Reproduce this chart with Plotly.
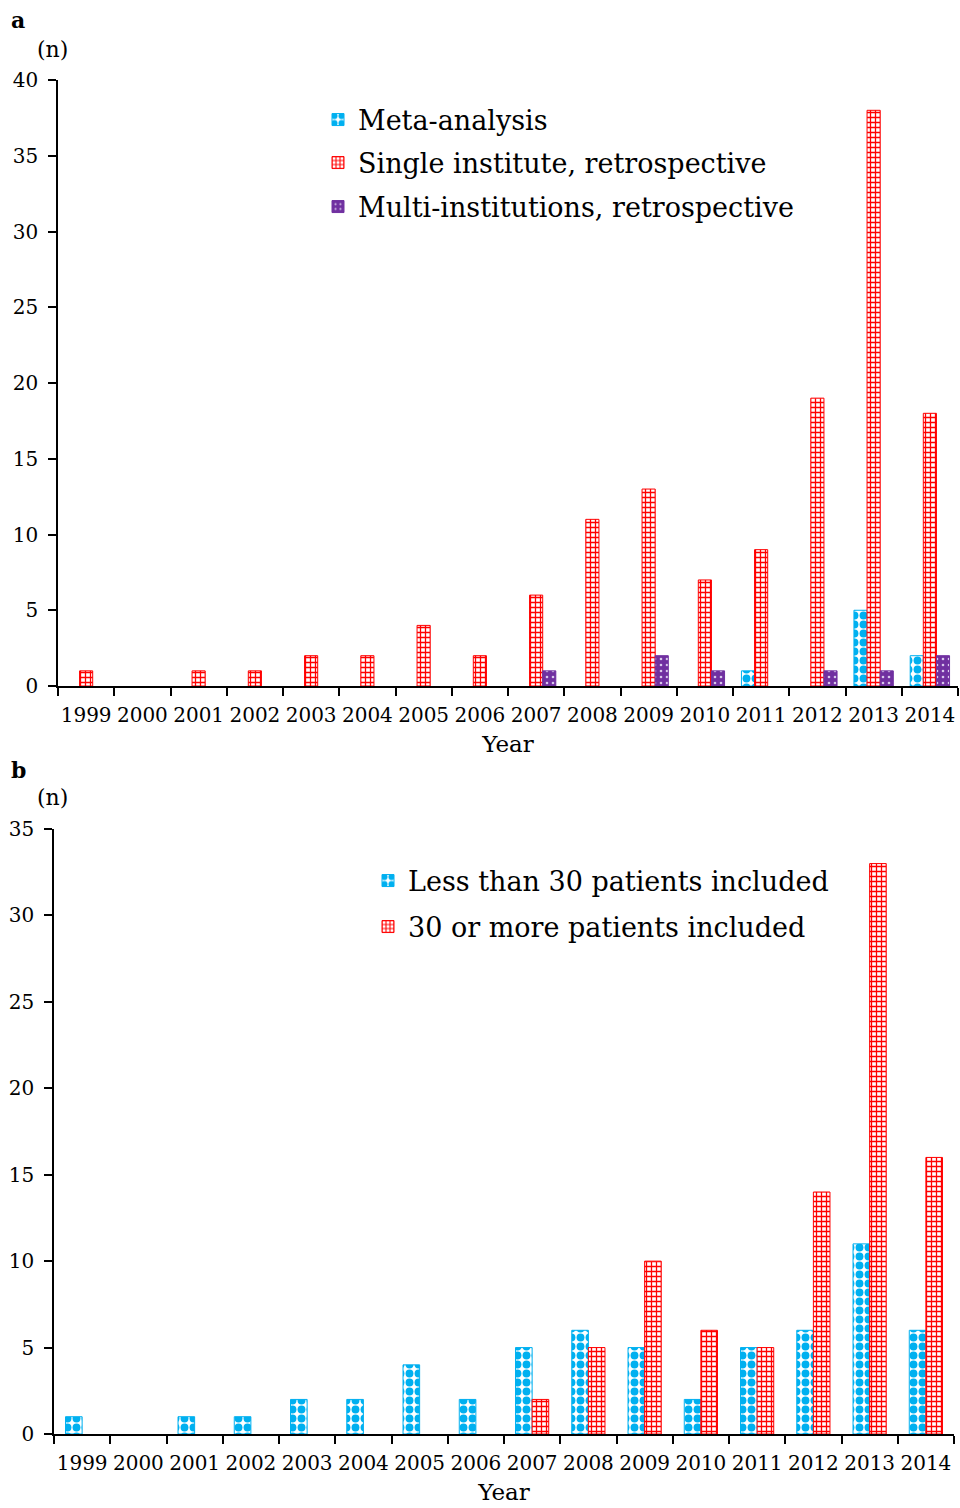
import plotly.graph_objects as go

years = [str(y) for y in range(1999, 2015)]

# Panel a
meta = [0, 0, 0, 0, 0, 0, 0, 0, 0, 0, 0, 0, 1, 0, 5, 2]
single = [1, 0, 1, 1, 2, 2, 4, 2, 6, 11, 13, 7, 9, 19, 38, 18]
multi = [0, 0, 0, 0, 0, 0, 0, 0, 1, 0, 2, 1, 0, 1, 1, 2]

# Panel b
less30 = [1, 0, 1, 1, 2, 2, 4, 2, 5, 6, 5, 2, 5, 6, 11, 6]
more30 = [0, 0, 0, 0, 0, 0, 0, 0, 2, 5, 10, 6, 5, 14, 33, 16]

W, H = 960, 1508
CYAN = "#00B0F0"
RED = "#FF0000"
PURPLE = "#7030A0"
FONT = "DejaVu Serif"

fig = go.Figure()

def px(x):
    return x / W

def py(y):
    return 1 - y / H

def nz(vals):
    return [v if v else None for v in vals]

def bar(name, x, y, color, shape, fg, bg, size, sol, xa, ya, legend, **kw):
    return go.Bar(
        name=name, x=x, y=nz(y), xaxis=xa, yaxis=ya, legend=legend, showlegend=True,
        marker=dict(
            color=bg,
            line=dict(color=color, width=1),
            pattern=dict(shape=shape, fgcolor=fg, bgcolor=bg, size=size,
                         solidity=sol, fillmode="replace"),
        ),
        **kw,
    )

BW = 0.295
fig.add_trace(bar("Meta-analysis", years, meta, CYAN, ".", CYAN, "white", 9, 0.6, "x", "y", "legend"))
fig.add_trace(bar("Single institute, retrospective", years, single, RED, "+", RED, "white", 5, 0.45, "x", "y", "legend2"))
fig.add_trace(bar("Multi-institutions, retrospective", years, multi, PURPLE, ".", "#D8C8EC", PURPLE, 6, 0.15, "x", "y", "legend3"))
fig.add_trace(bar("Less than 30 patients included", years, less30, CYAN, ".", CYAN, "white", 9, 0.6, "x2", "y2", "legend4",
                  width=BW, offset=-BW, offsetgroup="b1"))
fig.add_trace(bar("30 or more patients included", years, more30, RED, "+", RED, "white", 5, 0.45, "x2", "y2", "legend5",
                  width=BW, offset=0, offsetgroup="b2"))

tickfont = dict(family=FONT, size=20, color="black")
xcommon = dict(type="category", showline=True, linecolor="black", linewidth=1.5,
               ticks="outside", tickson="boundaries", ticklen=8, tickcolor="black",
               tickwidth=1.5, tickfont=tickfont, tickangle=0, showgrid=False,
               automargin=False, ticklabelstandoff=10,
               title=dict(text="Year", font=dict(family=FONT, size=23, color="black"), standoff=10))
ycommon = dict(showline=True, linecolor="black", linewidth=1.5, ticks="outside",
               ticklen=8, tickcolor="black", tickwidth=1.5, tickfont=tickfont,
               showgrid=False, zeroline=False, dtick=5, automargin=False,
               ticklabelstandoff=6)

fig.update_layout(
    width=W, height=H,
    margin=dict(l=0, r=0, t=0, b=0, autoexpand=False),
    paper_bgcolor="white", plot_bgcolor="white",
    barmode="group",
    showlegend=True,
    font=dict(family=FONT, color="black"),
    xaxis=dict(domain=[px(58), px(958)], anchor="y", **xcommon),
    yaxis=dict(domain=[py(686), py(80)], anchor="x", range=[0, 40], **ycommon),
    xaxis2=dict(domain=[px(54), px(954)], anchor="y2", **xcommon),
    yaxis2=dict(domain=[py(1434), py(829)], anchor="x2", range=[0, 35], **ycommon),
    bargap=0.3,
)

leg_font = dict(family=FONT, size=27, color="black")
def leg(x, y):
    return dict(x=px(x), y=py(y), xanchor="left", yanchor="middle",
                bgcolor="rgba(0,0,0,0)", font=leg_font, itemwidth=30)

fig.update_layout(
    legend=leg(318, 120),
    legend2=leg(318, 163),
    legend3=leg(318, 207),
    legend4=leg(368, 881),
    legend5=leg(368, 927),
)

ann_font = dict(family=FONT, size=22, color="black")
for txt, x, y, bold in [("a", 18, 20, True), ("(n)", 52, 50, False),
                        ("b", 18, 770, True), ("(n)", 52, 797, False)]:
    fig.add_annotation(text=f"<b>{txt}</b>" if bold else txt, x=px(x), y=py(y),
                       xref="paper", yref="paper", showarrow=False,
                       xanchor="center", yanchor="middle", font=ann_font)

fig.write_html(
    "out.html",
    config={"displayModeBar": False},
    post_script="document.body.style.margin='0';document.body.style.padding='0';document.body.style.overflow='hidden';",
)
